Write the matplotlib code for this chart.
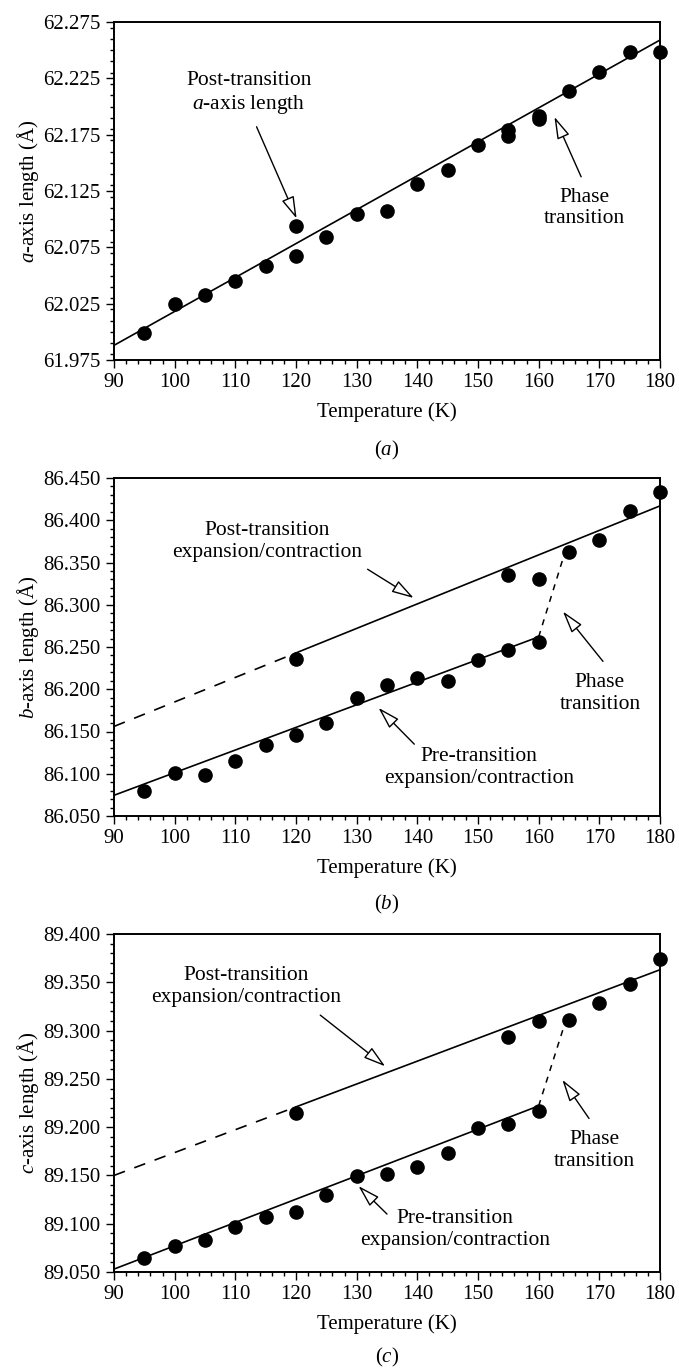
import numpy as np
import matplotlib.pyplot as plt
from matplotlib.ticker import MultipleLocator, FormatStrFormatter

plt.rcParams['font.family'] = ['Liberation Serif', 'DejaVu Serif']
plt.rcParams['mathtext.fontset'] = 'custom'
plt.rcParams['mathtext.rm'] = 'Liberation Serif'
plt.rcParams['mathtext.it'] = 'Liberation Serif:italic'

# temperatures (K)
temp = [95, 100, 105, 110, 115, 120, 125, 130, 135, 140, 145, 150, 155, 160,
        165, 170, 175, 180]

# a axis: main series plus extra (repeated) measurements
a_len = [61.999, 62.025, 62.033, 62.045, 62.058, 62.067, 62.084, 62.105,
         62.107, 62.131, 62.144, 62.166, 62.174, 62.189, 62.214, 62.231,
         62.248, 62.248]
a_extra_t = [120, 155, 160]
a_extra = [62.094, 62.179, 62.192]
a_fit_t = [90, 180]
a_fit = [61.988, 62.259]

# b axis
b_pre_t = [95, 100, 105, 110, 115, 120, 125, 130, 135, 140, 145, 150, 155, 160]
b_pre = [86.080, 86.101, 86.098, 86.115, 86.134, 86.146, 86.160, 86.190,
         86.205, 86.213, 86.210, 86.235, 86.247, 86.256]
b_post_t = [120, 155, 160, 165, 170, 175, 180]
b_post = [86.236, 86.335, 86.331, 86.362, 86.377, 86.411, 86.433]
b_pre_fit = [86.0745, 86.262]          # at 90 and 160 K
b_post_fit = [86.156, 86.243, 86.417]  # at 90, 120, 180 K
b_jump = [86.262, 86.359]              # at 160 and 164.2 K

# c axis
c_pre_t = b_pre_t
c_pre = [89.064, 89.077, 89.083, 89.097, 89.107, 89.112, 89.130, 89.149,
         89.151, 89.159, 89.173, 89.199, 89.203, 89.217]
c_post_t = b_post_t
c_post = [89.215, 89.293, 89.310, 89.311, 89.329, 89.348, 89.374]
c_pre_fit = [89.053, 89.222]
c_post_fit = [89.150, 89.221, 89.363]
c_jump = [89.222, 89.305]

# annotations: text, text centre, arrow start, arrow tip
a_notes = [('Post-transition\n' + r'$\it{a}$-axis length', (112.2, 62.2118), (113.5, 62.182), (120.1, 62.1006)),
           ('Phase\ntransition', (167.6, 62.110), (167.0, 62.1376), (162.6, 62.1908))]
b_notes = [('Post-transition\nexpansion/contraction', (115.3, 86.375), (131.8, 86.342), (139.4, 86.308)),
           ('Pre-transition\nexpansion/contraction', (150.2, 86.107), (139.5, 86.135), (133.6, 86.178)),
           ('Phase\ntransition', (170.1, 86.195), (170.6, 86.233), (164.0, 86.292))]
c_notes = [('Post-transition\nexpansion/contraction', (111.8, 89.346), (124.0, 89.316), (134.7, 89.263)),
           ('Pre-transition\nexpansion/contraction', (146.2, 89.094), (135.0, 89.110), (130.3, 89.139)),
           ('Phase\ntransition', (169.2, 89.176), (168.3, 89.209), (163.9, 89.249))]

fig = plt.figure(figsize=(6.79, 13.68), dpi=100)
W, H = 679, 1368
left, right = 114, 660
tops = [22, 478, 934]
ph = 338


def style(ax, ylo, yhi, ystep, ylab):
    ax.set_xlim(90, 180)
    ax.set_ylim(ylo, yhi)
    ax.xaxis.set_major_locator(MultipleLocator(10))
    ax.xaxis.set_minor_locator(MultipleLocator(2))
    ax.set_yticks(np.arange(ylo, yhi + ystep / 2, ystep))
    ax.yaxis.set_minor_locator(MultipleLocator(ystep / 5))
    ax.yaxis.set_major_formatter(FormatStrFormatter('%.3f'))
    ax.tick_params(which='both', direction='out', top=False, right=False,
                   labelsize=15, width=1)
    ax.tick_params(which='major', length=6)
    ax.tick_params(which='minor', length=3)
    for s in ax.spines.values():
        s.set_linewidth(1.4)
    ax.set_xlabel('Temperature (K)', fontsize=15, labelpad=7)
    ax.set_ylabel(ylab, fontsize=15, labelpad=2)


def notes(ax, items):
    for txt, tc, start, tip in items:
        ax.text(tc[0], tc[1], txt, fontsize=15.5, ha='center', va='center',
                linespacing=1.2)
        ax.annotate('', xy=tip, xytext=start,
                    arrowprops=dict(arrowstyle='-|>,head_length=0.85,head_width=0.25',
                                    fc='white', ec='black', lw=1,
                                    mutation_scale=16, shrinkA=0, shrinkB=0))


axes = []
for t in tops:
    ax = fig.add_axes([left / W, 1 - (t + ph) / H, (right - left) / W, ph / H])
    axes.append(ax)

ms = 9.5

# (a)
ax = axes[0]
ax.plot(a_fit_t, a_fit, 'k-', lw=1.2)
ax.plot(temp, a_len, 'ko', ms=ms, clip_on=False)
ax.plot(a_extra_t, a_extra, 'ko', ms=ms, clip_on=False)
style(ax, 61.975, 62.275, 0.05, r'$\it{a}$-axis length (Å)')
notes(ax, a_notes)

# (b)
ax = axes[1]
ax.plot([90, 160], b_pre_fit, 'k-', lw=1.2)
ax.plot([90, 120], b_post_fit[:2], 'k', ls=(0, (7, 6)), lw=1.2)
ax.plot([120, 180], b_post_fit[1:], 'k-', lw=1.2)
ax.plot([160, 164.2], b_jump, 'k', ls=(0, (4, 4)), lw=1.1)
ax.plot(b_pre_t, b_pre, 'ko', ms=ms, clip_on=False)
ax.plot(b_post_t, b_post, 'ko', ms=ms, clip_on=False)
style(ax, 86.05, 86.45, 0.05, r'$\it{b}$-axis length (Å)')
notes(ax, b_notes)

# (c)
ax = axes[2]
ax.plot([90, 160], c_pre_fit, 'k-', lw=1.2)
ax.plot([90, 120], c_post_fit[:2], 'k', ls=(0, (7, 6)), lw=1.2)
ax.plot([120, 180], c_post_fit[1:], 'k-', lw=1.2)
ax.plot([160, 164.2], c_jump, 'k', ls=(0, (4, 4)), lw=1.1)
ax.plot(c_pre_t, c_pre, 'ko', ms=ms, clip_on=False)
ax.plot(c_post_t, c_post, 'ko', ms=ms, clip_on=False)
style(ax, 89.05, 89.40, 0.05, r'$\it{c}$-axis length (Å)')
notes(ax, c_notes)

cx = (left + right) / 2 / W
for lab, t, off in zip(['a', 'b', 'c'], tops, [90, 88, 85]):
    fig.text(cx, 1 - (t + ph + off) / H, '(' + r'$\it{' + lab + '}$' + ')',
             ha='center', va='center', fontsize=15)

fig.savefig('out.png', dpi=100)
